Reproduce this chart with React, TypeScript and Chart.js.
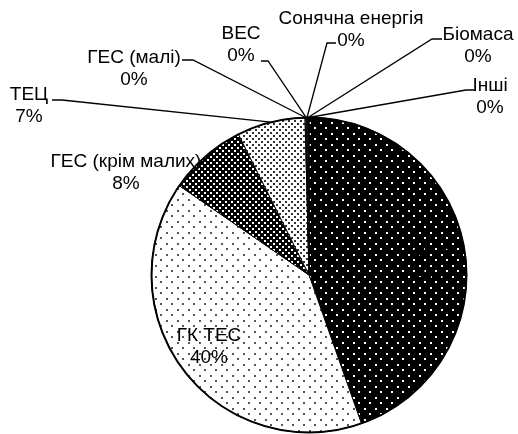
import React, { useEffect, useRef } from "react";
import { Chart, registerables } from "chart.js";

Chart.register(...registerables);

// ---- data ----
const categories = [
  "АЕС",
  "ГК ТЕС",
  "ГЕС (крім малих)",
  "ТЕЦ",
  "ГЕС (малі)",
  "ВЕС",
  "Сонячна енергія",
  "Біомаса",
  "Інші",
];
const shares = [44.6, 40.0, 8.0, 7.0, 0.1, 0.05, 0.1, 0.1, 0.05];

// ---- label layout (text block centre of first line, leader elbow) ----
type LabelLayout = {
  x: number;
  y: number;
  color?: string;
  leader?: { y: number; x1: number; x2: number };
};
const labelLayout: LabelLayout[] = [
  { x: 430, y: 254, color: "#000" },
  { x: 209, y: 336 },
  { x: 126, y: 162 },
  { x: 29, y: 95, leader: { y: 100, x1: 52, x2: 62 } },
  { x: 134, y: 58, leader: { y: 60, x1: 182, x2: 193 } },
  { x: 241, y: 34, leader: { y: 61, x1: 261, x2: 268 } },
  { x: 351, y: 19, leader: { y: 43, x1: 336, x2: 327 } },
  { x: 478, y: 35, leader: { y: 39, x1: 442, x2: 432 } },
  { x: 490, y: 86, leader: { y: 90, x1: 476, x2: 466 } },
];
const LINE_GAP = 22;
const FONT = "19px 'Liberation Sans', Arial, sans-serif";

type PatternSpec = { bg: string; fg: string; size: number; dots: [number, number][]; dot: number };
const patternSpecs: PatternSpec[] = [
  { bg: "#000", fg: "#fff", size: 11, dots: [[1, 1], [6, 6]], dot: 2 },
  { bg: "#fff", fg: "#555", size: 11, dots: [[1, 1], [6, 6]], dot: 2 },
  { bg: "#000", fg: "#fff", size: 6, dots: [[0, 0], [3, 3]], dot: 2 },
  { bg: "#fff", fg: "#333", size: 6, dots: [[0, 0], [3, 3]], dot: 2 },
  { bg: "#fff", fg: "#fff", size: 4, dots: [], dot: 1 },
  { bg: "#fff", fg: "#fff", size: 4, dots: [], dot: 1 },
  { bg: "#fff", fg: "#fff", size: 4, dots: [], dot: 1 },
  { bg: "#fff", fg: "#fff", size: 4, dots: [], dot: 1 },
  { bg: "#fff", fg: "#fff", size: 4, dots: [], dot: 1 },
];

function makePattern(ctx: CanvasRenderingContext2D, s: PatternSpec): CanvasPattern | string {
  const c = document.createElement("canvas");
  c.width = s.size;
  c.height = s.size;
  const g = c.getContext("2d")!;
  g.fillStyle = s.bg;
  g.fillRect(0, 0, s.size, s.size);
  g.fillStyle = s.fg;
  s.dots.forEach(([x, y]) => g.fillRect(x, y, s.dot, s.dot));
  return ctx.createPattern(c, "repeat") || s.bg;
}

const labelPlugin = {
  id: "excelLabels",
  afterDatasetsDraw(chart: any) {
    const ctx: CanvasRenderingContext2D = chart.ctx;
    const meta = chart.getDatasetMeta(0);
    const data: number[] = chart.data.datasets[0].data;
    const total = data.reduce((a, b) => a + b, 0);
    ctx.save();
    // outer outline of the pie, slightly heavier like the original
    const first = meta.data[0].getProps(["x", "y", "outerRadius"], true);
    ctx.strokeStyle = "#000";
    ctx.lineWidth = 2;
    ctx.beginPath();
    ctx.arc(first.x, first.y, first.outerRadius, 0, Math.PI * 2);
    ctx.stroke();

    ctx.font = FONT;
    ctx.textAlign = "center";
    ctx.textBaseline = "middle";
    meta.data.forEach((arc: any, i: number) => {
      const lay = labelLayout[i];
      const pct = Math.round((data[i] / total) * 100) + "%";
      const name = chart.data.labels[i] as string;
      if (lay.leader) {
        const p = arc.getProps(["x", "y", "startAngle", "endAngle", "outerRadius"], true);
        const mid = (p.startAngle + p.endAngle) / 2;
        const ex = p.x + Math.cos(mid) * p.outerRadius;
        const ey = p.y + Math.sin(mid) * p.outerRadius;
        ctx.strokeStyle = "#000";
        ctx.lineWidth = 1.3;
        ctx.beginPath();
        ctx.moveTo(lay.leader.x1, lay.leader.y);
        ctx.lineTo(lay.leader.x2, lay.leader.y);
        ctx.lineTo(ex, ey);
        ctx.stroke();
      }
      ctx.fillStyle = lay.color || "#000";
      ctx.fillText(name, lay.x, lay.y);
      ctx.fillText(pct, lay.x, lay.y + LINE_GAP);
    });
    ctx.restore();
  },
};

export default function App() {
  const ref = useRef<HTMLCanvasElement | null>(null);
  useEffect(() => {
    const canvas = ref.current!;
    const ctx = canvas.getContext("2d")!;
    const fills = patternSpecs.map((s) => makePattern(ctx, s));
    const chart = new Chart(canvas, {
      type: "pie",
      data: {
        labels: categories,
        datasets: [
          {
            data: shares,
            backgroundColor: fills as any,
            borderColor: "#000",
            borderWidth: 1,
          },
        ],
      },
      options: {
        animation: false,
        responsive: true,
        maintainAspectRatio: false,
        layout: { padding: { left: 151, right: 51, top: 117, bottom: 1 } },
        plugins: {
          legend: { display: false },
          tooltip: { enabled: false },
        },
      },
      plugins: [labelPlugin],
    });
    return () => chart.destroy();
  }, []);
  return (
    <div style={{ position: "absolute", left: 0, top: 0, width: 518, height: 434, background: "#fff" }}>
      <canvas ref={ref} />
    </div>
  );
}
